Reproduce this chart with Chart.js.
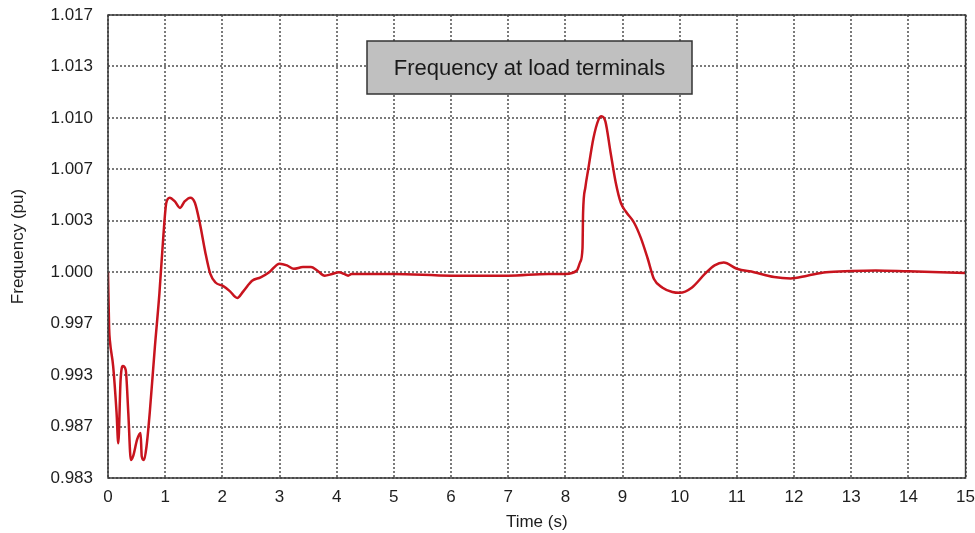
<!DOCTYPE html>
<html>
<head>
<meta charset="utf-8">
<title>Frequency at load terminals</title>
<script src="https://cdn.jsdelivr.net/npm/chart.js@4/dist/chart.umd.min.js"></script>
<style>
    html, body { margin: 0; padding: 0; background: #fff; }
    #wrap { width: 975px; height: 533px; }
</style>
</head>
<body>
<div id="wrap"><canvas id="freqChart" width="975" height="533"></canvas></div>
<script>
// time (s) and frequency (pu)
const timeS = [
    0.00, 0.02, 0.035, 0.09, 0.15, 0.18, 0.22, 0.26, 0.31, 0.355,
    0.40, 0.44, 0.51, 0.57, 0.59, 0.63, 0.675, 0.73, 0.82, 0.90,
    0.97, 1.02, 1.08, 1.17, 1.26, 1.34, 1.44, 1.52, 1.61, 1.70,
    1.79, 1.88, 2.01, 2.13, 2.26, 2.37, 2.52, 2.67, 2.82, 3.00,
    3.13, 3.25, 3.41, 3.55, 3.66, 3.79, 3.92, 4.04, 4.13, 4.20,
    4.26, 4.50, 5.00, 6.00, 7.00, 7.70, 8.00, 8.20, 8.26, 8.30,
    8.31, 8.35, 8.40, 8.49, 8.58, 8.63, 8.70, 8.79, 8.88, 8.97,
    9.06, 9.20, 9.32, 9.44, 9.55, 9.70, 9.87, 10.00, 10.21, 10.44,
    10.61, 10.77, 11.00, 11.30, 11.65, 11.94, 12.23, 12.56, 13.00, 13.43,
    14.00, 15.00
];

const freqPu = [
    1.0000, 0.9966, 0.9956, 0.9937, 0.9886, 0.9857, 0.9924, 0.9937, 0.9934, 0.9886,
    0.9844, 0.9847, 0.9860, 0.9865, 0.9847, 0.9844, 0.9855, 0.9886, 0.9952, 0.9988,
    1.0022, 1.0044, 1.0048, 1.0045, 1.0040, 1.0045, 1.0048, 1.0044, 1.0028, 1.0012,
    0.9999, 0.9994, 0.9992, 0.9989, 0.9985, 0.9989, 0.9995, 0.9997, 1.0000, 1.0005,
    1.0004, 1.0002, 1.0003, 1.0003, 1.0001, 0.9998, 0.9999, 1.0000, 0.9999, 0.9998,
    0.9999, 0.9999, 0.9999, 0.9998, 0.9998, 0.9999, 0.9999, 1.0001, 1.0006, 1.0014,
    1.0036, 1.0056, 1.0070, 1.0088, 1.0099, 1.0101, 1.0098, 1.0080, 1.0060, 1.0044,
    1.0037, 1.0029, 1.0020, 1.0008, 0.9996, 0.9991, 0.99885, 0.9988, 0.9991, 0.9999,
    1.0004, 1.00056, 1.0002, 1.0000, 0.99972, 0.99964, 0.9998, 1.0000, 1.00007, 1.0001,
    1.00005, 0.99996
];

// gridlines of the frequency axis (drawn evenly spaced, as in the original)
const yTicks = [0.983, 0.987, 0.993, 0.997, 1.000, 1.003, 1.007, 1.010, 1.013, 1.017];
const xTicks = [0, 1, 2, 3, 4, 5, 6, 7, 8, 9, 10, 11, 12, 13, 14, 15];

const boxTitle = 'Frequency at load terminals';

// linear scale that spaces the listed ticks evenly and interpolates between them
class GridStepScale extends Chart.LinearScale {
    static id = 'gridstep';

    buildTicks() {
        return yTicks.map(v => ({ value: v }));
    }

    toDecimal(v) {
        const n = yTicks.length - 1;
        let i = 0;
        while (i < n - 1 && v > yTicks[i + 1]) i++;
        return (i + (v - yTicks[i]) / (yTicks[i + 1] - yTicks[i])) / n;
    }

    getPixelForValue(v) {
        return this.getPixelForDecimal(this.toDecimal(v));
    }

    getValueForPixel(p) {
        const n = yTicks.length - 1;
        const d = Math.min(Math.max(this.getDecimalForPixel(p) * n, 0), n);
        const i = Math.min(Math.floor(d), n - 1);
        return yTicks[i] + (d - i) * (yTicks[i + 1] - yTicks[i]);
    }
}
Chart.register(GridStepScale);

const textColor = '#1e1e1e';
const gridColor = '#7a7a7a';
const fontFamily = '"Liberation Sans", Arial, sans-serif';

const frameAndBox = {
    id: 'frameAndBox',
    afterDatasetsDraw(chart) {
        const { ctx, chartArea: a } = chart;
        ctx.save();
        // plot frame
        ctx.strokeStyle = '#3a3a3a';
        ctx.lineWidth = 1.5;
        ctx.strokeRect(a.left, a.top, a.right - a.left, a.bottom - a.top);

        // title box inside the plot
        const bx = a.left + 259, by = a.top + 26, bw = 325, bh = 53;
        ctx.fillStyle = '#c0c0c0';
        ctx.fillRect(bx, by, bw, bh);
        ctx.strokeStyle = '#333';
        ctx.lineWidth = 1.5;
        ctx.strokeRect(bx, by, bw, bh);
        ctx.fillStyle = '#1a1a1a';
        ctx.font = '22px ' + fontFamily;
        ctx.textAlign = 'center';
        ctx.textBaseline = 'middle';
        ctx.fillText(boxTitle, bx + bw / 2, by + bh / 2 + 1);
        ctx.restore();
    }
};

const points = timeS.map((t, i) => ({ x: t, y: freqPu[i] }));

new Chart(document.getElementById('freqChart'), {
    type: 'line',
    data: {
        datasets: [{
            label: 'Frequency',
            data: points,
            borderColor: '#c8141e',
            backgroundColor: '#c8141e',
            borderWidth: 2.5,
            pointRadius: 0,
            cubicInterpolationMode: 'monotone',
            fill: false
        }]
    },
    options: {
        responsive: false,
        animation: false,
        layout: { padding: { top: 15, right: 7, left: 0, bottom: 0 } },
        plugins: {
            legend: { display: false },
            tooltip: { enabled: false }
        },
        scales: {
            x: {
                type: 'linear',
                min: 0,
                max: 15,
                afterBuildTicks: s => { s.ticks = xTicks.map(v => ({ value: v })); },
                afterFit: s => { s.height = 55; },
                ticks: {
                    color: textColor,
                    padding: 0,
                    font: { family: fontFamily, size: 17 }
                },
                grid: {
                    color: gridColor,
                    lineWidth: 2,
                    drawTicks: true,
                    tickLength: 9,
                    tickColor: 'rgba(0,0,0,0)'
                },
                border: { display: false, dash: [2, 2] },
                title: {
                    display: true,
                    text: 'Time (s)',
                    color: textColor,
                    padding: { top: -2, bottom: 0 },
                    font: { family: fontFamily, size: 17 }
                }
            },
            y: {
                type: 'gridstep',
                min: 0.983,
                max: 1.017,
                afterFit: s => { s.width = 108; },
                ticks: {
                    color: textColor,
                    padding: 0,
                    autoSkip: false,
                    callback: v => v.toFixed(3),
                    font: { family: fontFamily, size: 17 }
                },
                grid: {
                    color: gridColor,
                    lineWidth: 2,
                    drawTicks: true,
                    tickLength: 15,
                    tickColor: 'rgba(0,0,0,0)'
                },
                border: { display: false, dash: [2, 2] },
                title: {
                    display: true,
                    text: 'Frequency (pu)',
                    color: textColor,
                    padding: { top: 8 },
                    font: { family: fontFamily, size: 17 }
                }
            }
        }
    },
    plugins: [frameAndBox]
});
</script>
</body>
</html>
